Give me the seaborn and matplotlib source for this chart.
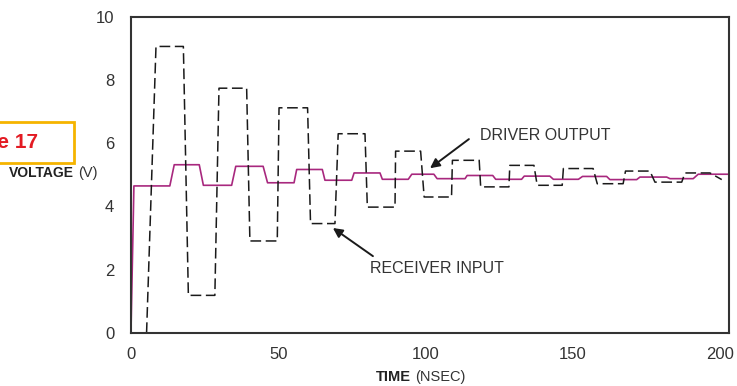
import matplotlib
matplotlib.use("Agg")
import matplotlib.pyplot as plt
import seaborn as sns
import pandas as pd
from matplotlib.patches import Rectangle

# receiver input (dashed black)
rx_time = [5.3, 8.5, 17.8, 19.5, 28.5, 29.9, 39.3, 40.4, 49.7, 50.3, 60.0, 61.0,
           69.3, 70.4, 79.5, 80.3, 89.7, 89.9, 98.4, 99.6, 108.9, 109.2, 118.3,
           118.8, 128.4, 128.7, 136.9, 138.0, 146.5, 146.9, 157.0, 158.4, 167.2,
           168.0, 176.3, 178.0, 187.1, 188.2, 196.7, 200.7]
rx_volt = [0.0, 9.06, 9.06, 1.19, 1.19, 7.74, 7.74, 2.91, 2.91, 7.12, 7.12, 3.46,
           3.46, 6.30, 6.30, 3.98, 3.98, 5.75, 5.75, 4.30, 4.30, 5.46, 5.46,
           4.62, 4.62, 5.30, 5.30, 4.67, 4.67, 5.20, 5.20, 4.72, 4.72,
           5.12, 5.12, 4.77, 4.77, 5.06, 5.06, 4.85]

# driver output (magenta)
dr_time = [0.0, 1.0, 13.2, 14.7, 23.2, 24.6, 34.2, 35.6, 44.9, 46.4, 55.4, 56.3,
           65.0, 65.9, 75.0, 75.8, 84.6, 85.4, 94.2, 95.4, 102.9, 104.0, 113.5,
           114.2, 122.9, 123.9, 132.7, 133.6, 142.3, 143.5, 152.0, 153.4, 161.6,
           162.7, 171.8, 172.9, 182.0, 183.1, 191.0, 192.7, 203.0]
dr_volt = [0.0, 4.65, 4.65, 5.32, 5.32, 4.67, 4.67, 5.27, 5.27, 4.75, 4.75, 5.17,
           5.17, 4.83, 4.83, 5.06, 5.06, 4.86, 4.86, 5.02, 5.02, 4.88, 4.88,
           4.98, 4.98, 4.86, 4.86, 4.96, 4.96, 4.86, 4.86, 4.95, 4.95,
           4.85, 4.85, 4.93, 4.93, 4.88, 4.88, 5.02, 5.02]

x_ticks = [0, 50, 100, 150, 200]
y_ticks = [0, 2, 4, 6, 8, 10]

rx = pd.DataFrame({"t": rx_time, "v": rx_volt})
dr = pd.DataFrame({"t": dr_time, "v": dr_volt})

sns.set_style("white")
plt.rcParams["font.family"] = ["Liberation Sans", "DejaVu Sans"]
grey = "#333333"

fig = plt.figure(figsize=(7.37, 3.86), dpi=100)
ax = fig.add_axes([0.1777, 0.1373, 0.8108, 0.8194])

sns.lineplot(data=dr, x="t", y="v", ax=ax, color="#A8287E", lw=1.2,
             sort=False, estimator=None)
sns.lineplot(data=rx, x="t", y="v", ax=ax, color="#1a1a1a", lw=1.1,
             sort=False, estimator=None, linestyle=(0, (7, 3)))

ax.set_xlim(0, 203)
ax.set_ylim(0, 10)
ax.set_xticks(x_ticks)
ax.set_yticks(y_ticks)
ax.tick_params(length=0, labelsize=12, labelcolor=grey)
ax.tick_params(axis="y", pad=12)
ax.tick_params(axis="x", pad=10)
ax.set_xlabel("")
ax.set_ylabel("")
for s in ax.spines.values():
    s.set_visible(True)
    s.set_color(grey)
    s.set_linewidth(1.5)

# annotations
ax.text(118.6, 6.25, "DRIVER OUTPUT", fontsize=11.5,
        color=grey, va="center", ha="left")
ax.annotate("", xy=(101.6, 5.21), xytext=(114.8, 6.13),
            arrowprops=dict(arrowstyle="-|>", color="#1a1a1a", lw=1.4,
                            mutation_scale=14, shrinkA=0, shrinkB=0))
ax.text(81.2, 2.05, "RECEIVER INPUT", fontsize=11.5,
        color=grey, va="center", ha="left")
ax.annotate("", xy=(68.6, 3.32), xytext=(82.2, 2.43),
            arrowprops=dict(arrowstyle="-|>", color="#1a1a1a", lw=1.4,
                            mutation_scale=14, shrinkA=0, shrinkB=0))

# axis titles
fig.text(74 / 737, 1 - 173 / 386, "VOLTAGE", weight="bold",
         fontsize=10, color="#222222", ha="right", va="center")
fig.text(78 / 737, 1 - 173 / 386, "(V)", fontsize=10.5,
         color=grey, ha="left", va="center")
fig.text(411 / 737, 1 - 377 / 386, "TIME", weight="bold",
         fontsize=10.5, color="#222222", ha="right", va="center")
fig.text(415 / 737, 1 - 377 / 386, "(NSEC)", fontsize=10.5,
         color=grey, ha="left", va="center")

# figure tag, cut off at the left edge as in the source
fig.patches.append(Rectangle((-0.05, 1 - 163 / 386), 0.05 + 74 / 737, 41 / 386,
                             transform=fig.transFigure, fill=False,
                             edgecolor="#F5B400", lw=2))
fig.text(38 / 737, 1 - 142 / 386, "Figure 17", weight="bold",
         fontsize=15, color="#E31B23", ha="right", va="center")

fig.savefig("out.png", dpi=100)
